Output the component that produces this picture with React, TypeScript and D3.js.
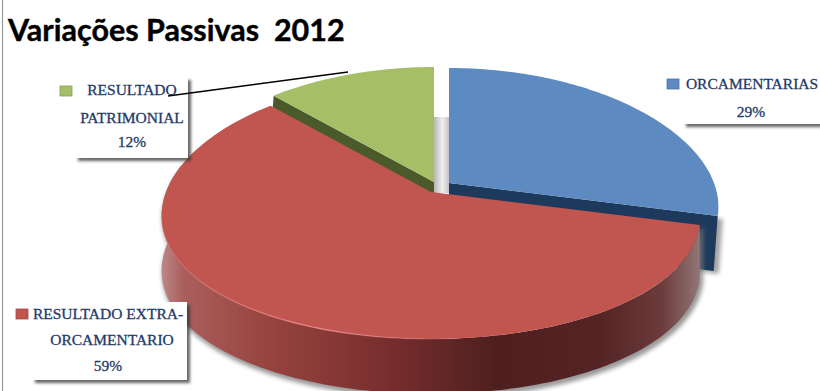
import React from "react";
import * as d3 from "d3";

// Share of each group in the 2012 total
const categories = ["ORCAMENTARIAS", "RESULTADO EXTRA-ORCAMENTARIO", "RESULTADO PATRIMONIAL"];
const shares = [29, 59, 12];

const topColors = ["#5e8ac2", "#c15650", "#a4bf66"];
const wallColors = ["#1d3a5c", "url(#redWall)", "#4a5a2a"];

// Where each exploded slice has its apex on the page
const apexes: [number, number][] = [[449, 183], [431, 192], [434, 182]];

const W = 820;
const H = 391;
const RX = 265;
const RY = 129;
const PERSPECTIVE_X = 0.18;
const PERSPECTIVE_Y = 0.122;
const DEPTH = 55;

type Apex = [number, number];

const project = (theta: number, apex: Apex, lift = 0): [number, number] => {
  const s = Math.sin(theta);
  const t = -Math.cos(theta);
  return [
    apex[0] + (RX * s) / (1 - PERSPECTIVE_X * t),
    apex[1] + (RY * t) / (1 - PERSPECTIVE_Y * t) + lift,
  ];
};

const line = d3.line<[number, number]>().x((p) => p[0]).y((p) => p[1]);

const sweep = (a0: number, a1: number) => {
  const n = Math.max(2, Math.ceil(Math.abs(a1 - a0) / 0.02));
  return d3.range(n + 1).map((i) => a0 + ((a1 - a0) * i) / n);
};

const slices = d3.pie<number>().sort(null).startAngle(0).endAngle(2 * Math.PI)(shares);

const topFace = (i: number) => {
  const { startAngle, endAngle } = slices[i];
  const apex = apexes[i];
  return line([apex, ...sweep(startAngle, endAngle).map((a) => project(a, apex))]) + "Z";
};

// Radial wall along one straight edge of a slice
const edgeWall = (i: number, angle: number) => {
  const apex = apexes[i];
  const rim = project(angle, apex);
  return line([apex, rim, [rim[0] - 4, rim[1] + DEPTH], [apex[0], apex[1] + DEPTH]]) + "Z";
};

// Curved outer wall of a slice between two angles
const rimWall = (i: number, a0: number, a1: number) => {
  const apex = apexes[i];
  const angles = sweep(a0, a1);
  return (
    line([
      ...angles.map((a) => project(a, apex)),
      ...angles.slice().reverse().map((a) => project(a, apex, DEPTH)),
    ]) + "Z"
  );
};

const rimLine = (i: number, a0: number, a1: number) =>
  line(sweep(a0, a1).map((a) => project(a, apexes[i]))) ?? "";

const redStart = slices[1].startAngle;
const redVisibleEnd = (282 * Math.PI) / 180;

const wallStops: [number, string][] = [
  [0, "#bd8a8a"],
  [0.04, "#ab5f5c"],
  [0.2, "#97433f"],
  [0.42, "#772e2d"],
  [0.62, "#4f1f1f"],
  [0.82, "#552525"],
  [0.93, "#6c3c3c"],
  [1, "#937676"],
];

const navy = "#1f3a68";

const labels: { lines: [string, number, number][]; key: [number, number]; box: [number, number, number, number] }[] = [
  {
    box: [683, 68, 150, 56],
    key: [667, 79],
    lines: [["ORCAMENTARIAS", 752, 89], ["29%", 751, 117]],
  },
  {
    box: [32, 302, 155, 78],
    key: [16, 309],
    lines: [["RESULTADO EXTRA-", 108, 319], ["ORCAMENTARIO", 112, 345], ["59%", 108, 371]],
  },
  {
    box: [75, 77, 113, 81],
    key: [60, 86],
    lines: [["RESULTADO", 132, 95], ["PATRIMONIAL", 132, 123], ["12%", 132, 147]],
  },
];

export default function App() {
  return (
    <svg
      width={W}
      height={H}
      viewBox={`0 0 ${W} ${H}`}
      style={{ position: "absolute", left: 0, top: 0, background: "#fff" }}
    >
      <defs>
        <linearGradient id="redWall" gradientUnits="userSpaceOnUse" x1={161} x2={700} y1={0} y2={0}>
          {wallStops.map(([o, c]) => (
            <stop key={o} offset={o} stopColor={c} />
          ))}
        </linearGradient>
        <linearGradient id="gap" x1={0} x2={1} y1={0} y2={0}>
          <stop offset={0} stopColor="#b4b4b4" />
          <stop offset={0.55} stopColor="#efefef" />
          <stop offset={1} stopColor="#c4c4c4" />
        </linearGradient>
        <linearGradient id="rimGlow" gradientUnits="userSpaceOnUse" x1={165} x2={470} y1={0} y2={0}>
          <stop offset={0} stopColor="#e47a76" stopOpacity={0.2} />
          <stop offset={0.5} stopColor="#ec8a84" stopOpacity={0.9} />
          <stop offset={1} stopColor="#e47a76" stopOpacity={0} />
        </linearGradient>
        <filter id="soft" x="-10%" y="-10%" width="120%" height="120%">
          <feGaussianBlur stdDeviation={2} />
        </filter>
        <filter id="softer" x="-10%" y="-30%" width="120%" height="160%">
          <feGaussianBlur stdDeviation={1.6} />
        </filter>
      </defs>

      <line x1={2.5} x2={2.5} y1={0} y2={H} stroke="#9a9a9a" strokeWidth={1.2} />

      <text
        x={8}
        y={41}
        fontFamily="Lato, 'Open Sans', sans-serif"
        fontWeight={700}
        fontSize={30.5}
        fill="#000"
        stroke="#000"
        strokeWidth={0.4}
        style={{ whiteSpace: "pre" }}
      >
        {"Variações Passivas  2012"}
      </text>

      {/* inner gap between the exploded slices */}
      <rect x={434} y={117} width={15} height={76} fill="url(#gap)" />

      {/* green slice */}
      <path d={edgeWall(2, slices[2].startAngle)} fill={wallColors[2]} />
      <path d={topFace(2)} fill={topColors[2]} />

      {/* blue slice */}
      <path d={edgeWall(0, slices[0].endAngle)} fill="#8c8c8c" opacity={0.8} filter="url(#soft)" transform="translate(5,3)" />
      <path d={edgeWall(0, slices[0].endAngle)} fill={wallColors[0]} />
      <path d={topFace(0)} fill={topColors[0]} />

      {/* red slice with its drop shadow */}
      <path
        d={rimWall(1, redStart, redVisibleEnd)}
        fill="#777"
        stroke="#777"
        strokeWidth={3}
        opacity={0.75}
        filter="url(#soft)"
        transform="translate(2,3)"
      />
      <path d={rimWall(1, redStart, redVisibleEnd)} fill={wallColors[1]} />
      <path d={topFace(1)} fill={topColors[1]} />
      <path d={rimLine(1, Math.PI * 0.95, Math.PI * 1.45)} fill="none" stroke="url(#rimGlow)" strokeWidth={1.5} />

      {labels.map((l, i) => (
        <g key={categories[i]}>
          <rect x={l.box[0] + 3} y={l.box[1] + 3} width={l.box[2]} height={l.box[3]} fill="#333" opacity={0.75} filter="url(#softer)" />
          <rect x={l.box[0]} y={l.box[1]} width={l.box[2]} height={l.box[3]} fill="#fff" />
          <rect x={l.key[0]} y={l.key[1]} width={12} height={10} fill={topColors[i]} stroke={d3.color(topColors[i])!.darker(0.5).formatHex()} strokeWidth={0.8} />
          {l.lines.map(([t, x, y]) => (
            <text
              key={t}
              x={x}
              y={y}
              textAnchor="middle"
              fontFamily="'Liberation Serif', serif"
              fontSize={15.5}
              fill={navy}
              stroke={navy}
              strokeWidth={0.3}
            >
              {t}
            </text>
          ))}
        </g>
      ))}

      {/* leader from the green slice label */}
      <line x1={168} y1={96} x2={348} y2={72} stroke="#000" strokeWidth={1.4} />
    </svg>
  );
}
